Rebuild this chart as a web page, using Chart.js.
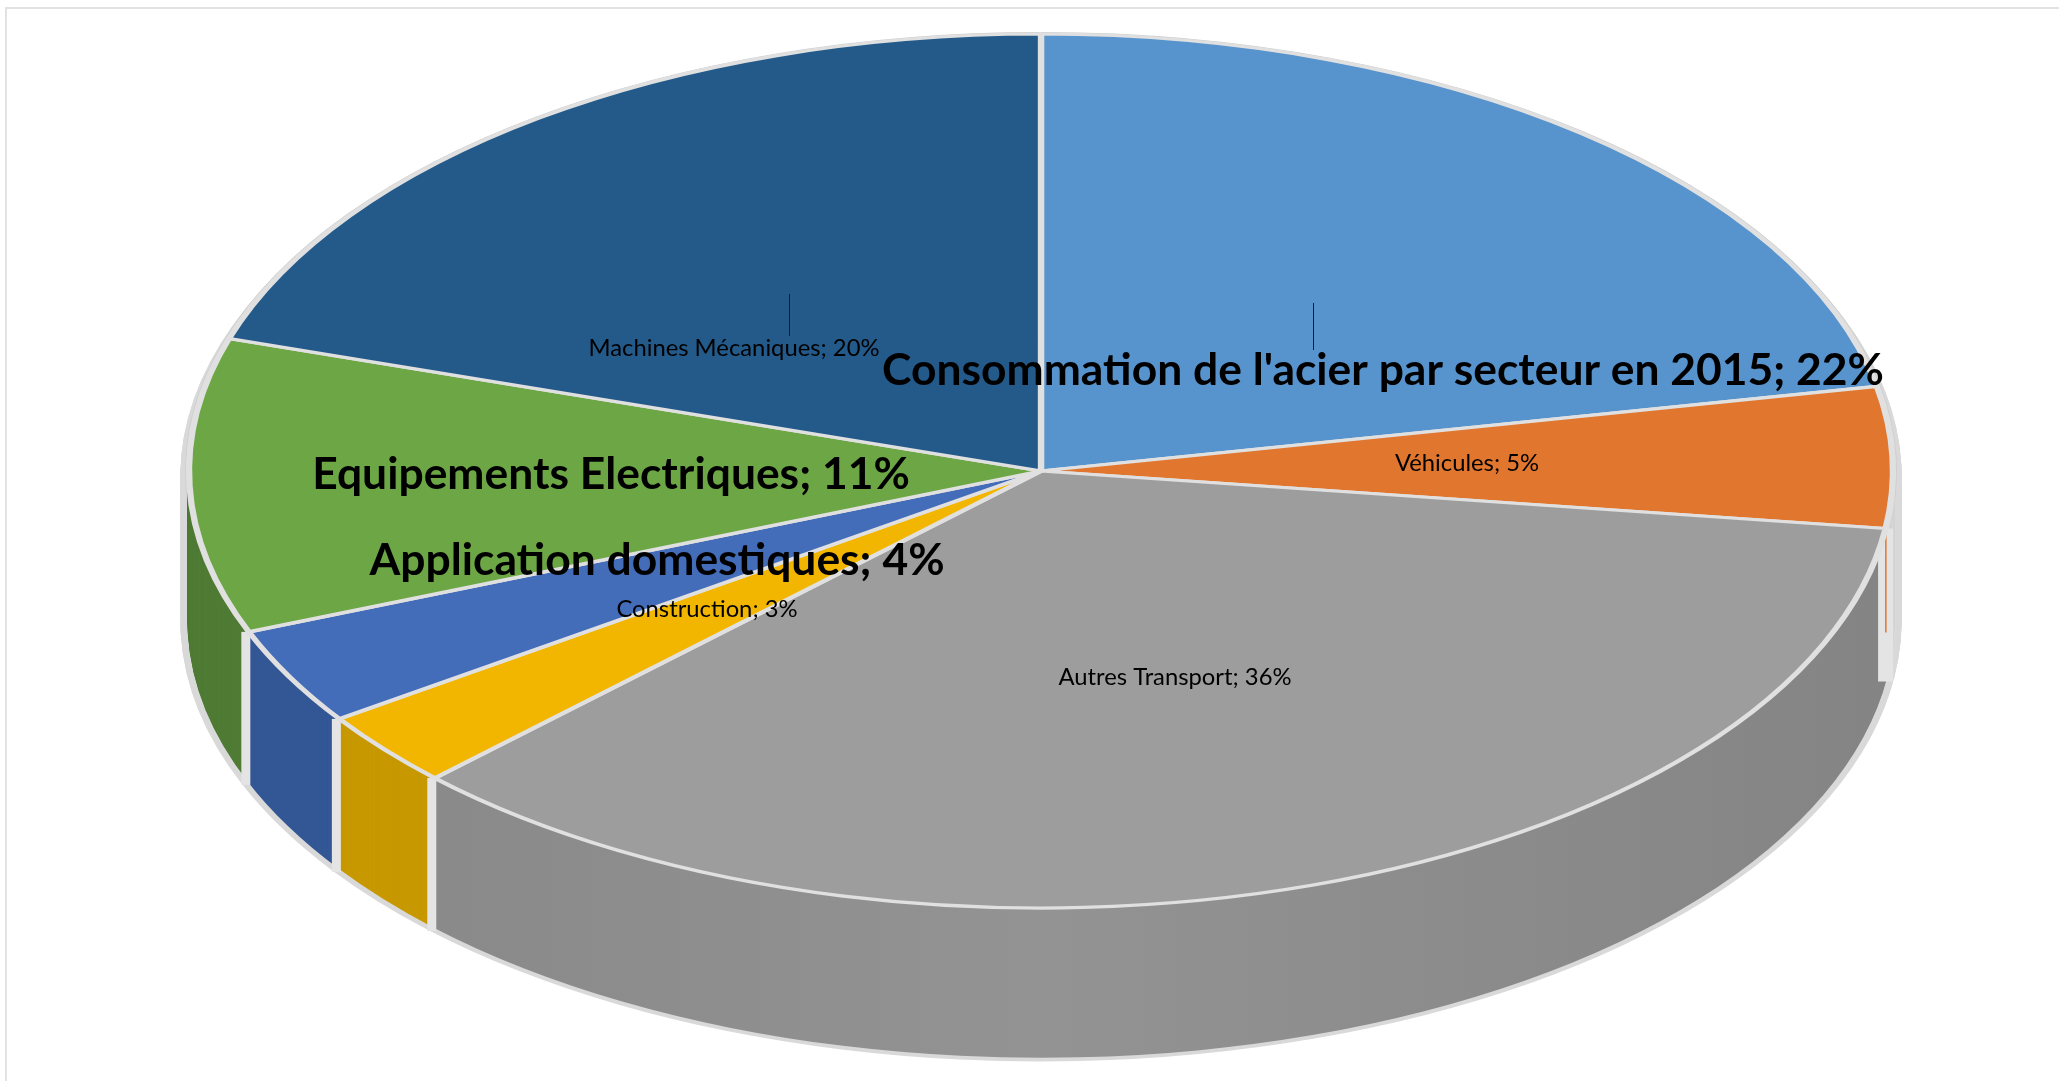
<!DOCTYPE html>
<html>
<head>
<meta charset="utf-8">
<title>Consommation de l'acier par secteur en 2015</title>
<script src="https://cdn.jsdelivr.net/npm/chart.js@4/dist/chart.umd.min.js"></script>
<style>
    html, body { margin: 0; padding: 0; background: #fff; overflow: hidden; }
    canvas { display: block; }
</style>
</head>
<body>
<canvas id="pie" width="2059" height="1081"></canvas>
<script>
// Data (slice angles give the decimals, labels show them rounded)
const categories = ["Consommation de l'acier par secteur en 2015", 'Véhicules', 'Autres Transport', 'Construction', 'Application domestiques', 'Equipements Electriques', 'Machines Mécaniques'];
const shares = [21.9, 5.2, 35.5, 2.8, 3.6, 10.9, 20.1];

// Slice colours, top face and side wall (the orange wall is only a sliver in the light band)
const topColors = ['#5793cc', '#e1762f', '#9d9d9d', '#f3b600', '#436cb9', '#6ca645', '#235a8a'];
const sideColors = ['#3f6d98', '#d4d4d4', null, '#c79800', '#335695', '#4f7b34', '#1a4367'];

// Label placement: centre x, centre y, font size, bold
const labelSpots = [
    [1383, 371, 44.4, true],
    [1467, 463, 23.8, false],
    [1175, 677, 23.8, false],
    [707, 609, 23.8, false],
    [657, 561, 44.4, true],
    [611, 475, 44.4, true],
    [734, 348, 23.8, false]
];
// Leader lines: x, y from, y to
const leaders = [[789, 294, 336], [1313, 303, 350]];

// Pie projection on the page
const CX = 1041, CY = 471, RX = 852, RY = 437, DEPTH = 149;

function project(ctx, arc, dy, fn) {
    ctx.save();
    ctx.translate(CX, CY + dy);
    ctx.scale(RX / arc.outerRadius, RY / arc.outerRadius);
    ctx.translate(-arc.x, -arc.y);
    fn();
    ctx.restore();
}

function flatArc(arc, color, grow) {
    return new Chart.ArcElement({
        x: arc.x, y: arc.y,
        startAngle: arc.startAngle, endAngle: arc.endAngle,
        innerRadius: 0, outerRadius: arc.outerRadius + grow,
        circumference: arc.circumference,
        options: { backgroundColor: color, borderColor: 'transparent', borderWidth: 0, borderRadius: 0, offset: 0, spacing: 0, circular: true, borderAlign: 'center' }
    });
}

const pie3d = {
    id: 'pie3d',
    beforeDraw(chart) {
        // thin frame along the top and left
        const ctx = chart.ctx;
        ctx.save();
        ctx.strokeStyle = '#e2e2e2';
        ctx.lineWidth = 2;
        ctx.beginPath();
        ctx.moveTo(2059, 8);
        ctx.lineTo(6, 8);
        ctx.lineTo(6, 1081);
        ctx.stroke();
        ctx.restore();
    },
    beforeDatasetsDraw(chart) {
        const ctx = chart.ctx;
        const arcs = chart.getDatasetMeta(0).data;
        const first = arcs[0];

        // grey wall gets a soft horizontal shading
        const wall = ctx.createLinearGradient(first.x - first.outerRadius, 0, first.x + first.outerRadius, 0);
        wall.addColorStop(0, '#868686');
        wall.addColorStop(0.5, '#939393');
        wall.addColorStop(1, '#848484');

        const rim = arcs.map(a => flatArc(a, '#cdcdcd', 2.5));
        const outline = arcs.map(a => flatArc(a, '#d9d9d9', 5.5));
        const sides = arcs.map((a, i) => flatArc(a, sideColors[i] || wall, 1));

        for (let d = DEPTH; d >= 6; d--) {
            project(ctx, first, d, () => outline.forEach(a => a.draw(ctx)));
        }
        project(ctx, first, 0, () => rim.forEach(a => a.draw(ctx)));
        for (let d = DEPTH; d >= 1; d--) {
            project(ctx, first, d, () => sides.forEach(a => a.draw(ctx)));
        }

        // light bands where two slices meet on the wall
        arcs.forEach((a, i) => {
            if (Math.sin(a.startAngle) <= 0 || i === 0) return;
            const x = CX + RX * Math.cos(a.startAngle);
            const y = CY + RY * Math.sin(a.startAngle);
            const rightEdge = Math.cos(a.startAngle) > 0.9;
            const w = rightEdge ? 15 : 9;
            ctx.fillStyle = '#e4e4e4';
            ctx.fillRect(x - w / 2 - (rightEdge ? 0 : 3), y, w, DEPTH + 4);
            if (rightEdge) {
                ctx.fillStyle = topColors[i - 1];
                ctx.fillRect(x - 0.5, y, 1.5, DEPTH - 45);
            }
        });

        // everything the chart draws next lands on the squashed top face
        ctx.save();
        ctx.translate(CX, CY);
        ctx.scale(RX / first.outerRadius, RY / first.outerRadius);
        ctx.translate(-first.x, -first.y);
    },
    afterDatasetsDraw(chart) {
        const ctx = chart.ctx;
        ctx.restore();

        // labels and leader lines
        ctx.save();
        ctx.fillStyle = '#000';
        ctx.textAlign = 'center';
        ctx.textBaseline = 'middle';
        categories.forEach((name, i) => {
            const [x, y, size, bold] = labelSpots[i];
            ctx.font = (bold ? 'bold ' : '') + size + 'px Lato';
            ctx.fillText(name + '; ' + Math.round(shares[i]) + '%', x, y);
        });
        ctx.strokeStyle = '#1a1a1a';
        ctx.lineWidth = 1;
        leaders.forEach(([x, y0, y1]) => {
            ctx.beginPath();
            ctx.moveTo(x + 0.5, y0);
            ctx.lineTo(x + 0.5, y1);
            ctx.stroke();
        });
        ctx.restore();
    }
};

new Chart(document.getElementById('pie'), {
    type: 'pie',
    data: {
        labels: categories,
        datasets: [{
            data: shares,
            backgroundColor: topColors,
            borderColor: '#e0e0e0',
            borderWidth: 4,
            borderJoinStyle: 'round',
            clip: false
        }]
    },
    options: {
        responsive: false,
        animation: false,
        events: [],
        plugins: {
            legend: { display: false },
            tooltip: { enabled: false }
        }
    },
    plugins: [pie3d]
});
</script>
</body>
</html>
